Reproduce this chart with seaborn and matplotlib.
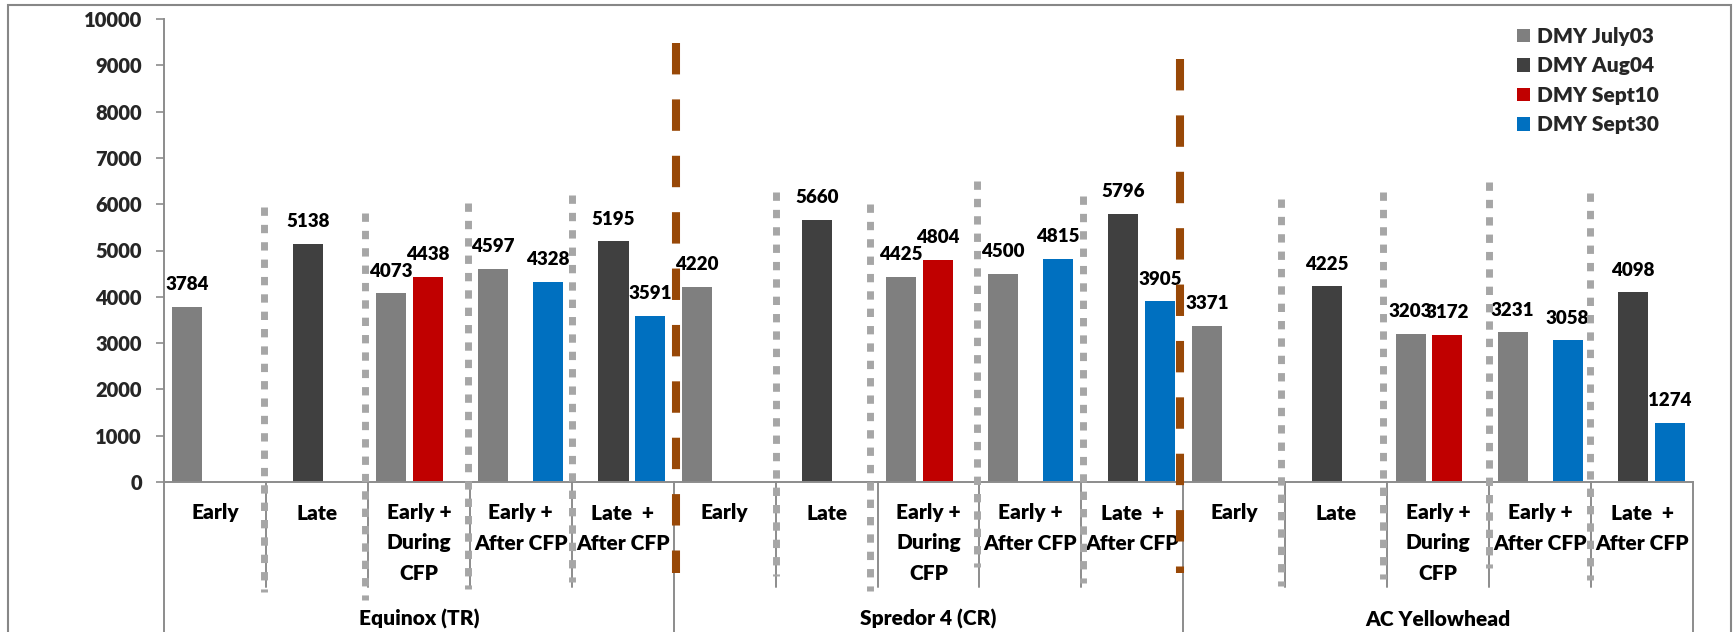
import numpy as np
import pandas as pd
import matplotlib
matplotlib.use("Agg")
import matplotlib.pyplot as plt
import matplotlib.transforms as mtransforms
from matplotlib.lines import Line2D
from matplotlib.patches import Rectangle, Patch
import seaborn as sns

nan = np.nan

# ---------------- data ----------------
groups = ["Equinox (TR)", "Spredor 4 (CR)", "AC Yellowhead"]
treatments = ["Early", "Late", "Early +\nDuring\nCFP", "Early +\nAfter CFP", "Late  +\nAfter CFP"]
series = ["DMY July03", "DMY Aug04", "DMY Sept10", "DMY Sept30"]

july03 = [3784, nan, 4073, 4597, nan, 4220, nan, 4425, 4500, nan, 3371, nan, 3203, 3231, nan]
aug04 = [nan, 5138, nan, nan, 5195, nan, 5660, nan, nan, 5796, nan, 4225, nan, nan, 4098]
sept10 = [nan, nan, 4438, nan, nan, nan, nan, 4804, nan, nan, nan, nan, 3172, nan, nan]
sept30 = [nan, nan, nan, 4328, 3591, nan, nan, nan, 4815, 3905, nan, nan, nan, 3058, 1274]

yticks = list(range(0, 10001, 1000))

# ---------------- style ----------------
colors = {"DMY July03": "#7F7F7F", "DMY Aug04": "#404040",
          "DMY Sept10": "#C00000", "DMY Sept30": "#0070C0"}
slot_offset = {"DMY July03": -0.27, "DMY Aug04": -0.09,
               "DMY Sept10": 0.09, "DMY Sept30": 0.27}
bar_w = 0.295
WEIGHT = "heavy"

sns.set_theme(style="white")
plt.rcParams["font.family"] = ["Lato", "DejaVu Sans"]
plt.rcParams["font.weight"] = WEIGHT

W, H = 1734, 632
fig = plt.figure(figsize=(W / 100, H / 100), dpi=100)
ax_left, ax_right, ax_top, ax_bot = 164, 1693, 19, 482
ax = fig.add_axes([ax_left / W, 1 - ax_bot / H, (ax_right - ax_left) / W, (ax_bot - ax_top) / H])

# long-form data
ncat = len(groups) * len(treatments)
rows = []
for s, vals in zip(series, [july03, aug04, sept10, sept30]):
    for i, v in enumerate(vals):
        if not np.isnan(v):
            rows.append({"pos": i + slot_offset[s], "value": v, "series": s})
df = pd.DataFrame(rows)
native = np.min(np.diff(np.unique(df["pos"].values)))

sns.barplot(data=df, x="pos", y="value", hue="series", hue_order=series,
            palette=colors, saturation=1, native_scale=True, dodge=False,
            width=bar_w / native, linewidth=0, legend=False, ax=ax, zorder=2)

ax.set_xlim(-0.5, ncat - 0.5)
ax.set_ylim(0, 10000)
ax.set_yticks(yticks)
ax.set_xticks([])
ax.set_xlabel("")
ax.set_ylabel("")
for sp in ["top", "right"]:
    ax.spines[sp].set_visible(False)
for sp in ["left", "bottom"]:
    ax.spines[sp].set_color("#8C8C8C")
    ax.spines[sp].set_linewidth(1.4)
ax.tick_params(axis="y", which="major", length=6, width=1.2, color="#8C8C8C",
               pad=10, labelsize=14.5, left=True)
for lab in ax.get_yticklabels():
    lab.set_fontweight(WEIGHT)

# data labels
for cont in ax.containers:
    for bar in cont:
        h = bar.get_height()
        if np.isnan(h):
            continue
        ax.annotate(f"{h:.0f}", (bar.get_x() + bar.get_width() / 2, h),
                    xytext=(0, 12), textcoords="offset points",
                    ha="center", va="baseline", fontsize=13.5,
                    fontweight=WEIGHT, color="#000000", zorder=4)

# ---------------- multi-level category axis ----------------
tr = mtransforms.blended_transform_factory(ax.transData, fig.transFigure)
def fy(px):
    return 1 - px / H

sep_color = "#8C8C8C"
for b in range(ncat + 1):
    x = b - 0.5
    if b % len(treatments) == 0:
        y0, y1 = ax_bot, H + 10
    else:
        y0, y1 = ax_bot, 587
    fig.add_artist(Line2D([x, x], [fy(y0), fy(y1)], transform=tr,
                          color=sep_color, lw=1.4, zorder=1))

for gi, g in enumerate(groups):
    for ti, t in enumerate(treatments):
        i = gi * len(treatments) + ti
        for li, line in enumerate(t.split("\n")):
            fig.text(i, fy(513 + 30 * li), line, transform=tr, ha="center",
                     va="center", fontsize=15, fontweight=WEIGHT, color="#000000")
    fig.text(gi * len(treatments) + 2, fy(619), g, transform=tr, ha="center",
             va="center", fontsize=15, fontweight=WEIGHT, color="#000000")

# ---------------- decorative separator shapes ----------------
dot_tops = [207, 213, 203, 195, 192, 204, 181, 196, 199, 192, 182, 193]
dot_bots = [592, 600, 589, 582, 576, 591, 567, 583, 586, 579, 568, 580]
dot_x = [0.48, 1.47, 2.48, 3.5, 5.5, 6.43, 7.48, 8.52, 10.46, 11.46, 12.5, 13.49]
for x, t, b in zip(dot_x, dot_tops, dot_bots):
    fig.add_artist(Line2D([x, x], [fy(t), fy(b)], transform=tr, color="#A6A6A6",
                          lw=5.0, dashes=(1.2, 1.3), solid_capstyle="butt",
                          dash_capstyle="butt", zorder=5))
brown_x = [4.52, 9.47]
brown_tops = [43, 59]
brown_bots = [573, 573]
for x, t, b in zip(brown_x, brown_tops, brown_bots):
    fig.add_artist(Line2D([x, x], [fy(t), fy(b)], transform=tr, color="#984807",
                          lw=5.8, dashes=(3.9, 3.1), dash_capstyle="butt", zorder=5))

# ---------------- legend ----------------
handles = [Patch(facecolor=colors[s], edgecolor="none", label=s) for s in series]
fig.legend(handles=handles, loc="upper left",
           bbox_to_anchor=(1517 / W, 1 - 27 / H), frameon=False,
           prop={"weight": WEIGHT, "size": 15},
           handlelength=0.62, handleheight=0.62, handletextpad=0.35,
           labelspacing=0.5, borderpad=0, borderaxespad=0)

# chart border
fig.add_artist(Rectangle((8 / W, -0.05), (1731 - 8) / W, 1 - 5 / H + 0.05,
                         transform=fig.transFigure, fill=False,
                         edgecolor="#878787", lw=1.5, zorder=0))

fig.savefig("out.png", dpi=100)
